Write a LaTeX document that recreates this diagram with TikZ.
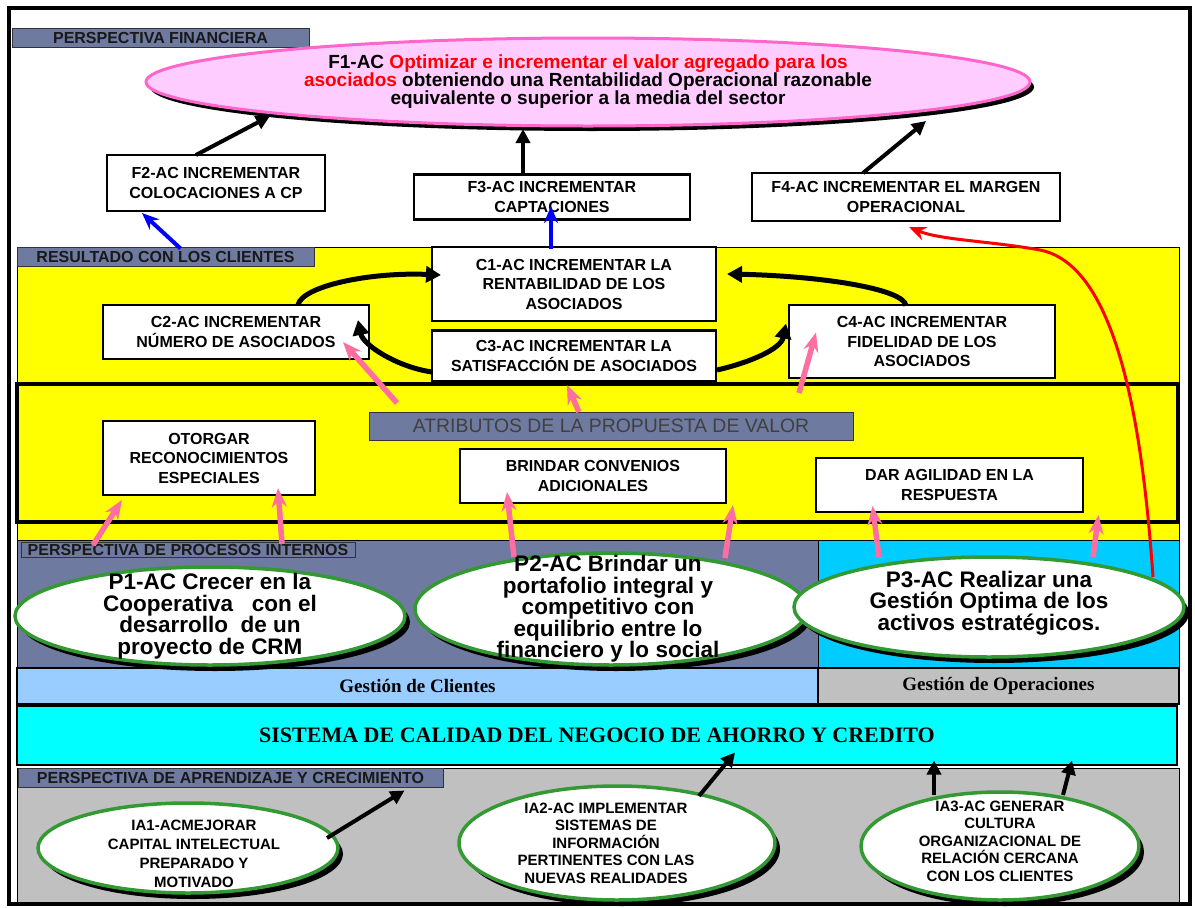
\documentclass[tikz,border=0pt]{standalone}
\usepackage{fontspec}
\setmainfont{Liberation Sans}
\newfontfamily\timesfam{Liberation Serif}
\usetikzlibrary{shapes.geometric,arrows.meta,shadows,calc}

\definecolor{slate}{RGB}{110,122,160}
\definecolor{pinkfill}{RGB}{255,204,255}
\definecolor{pinkline}{RGB}{255,102,204}
\definecolor{rosy}{RGB}{255,110,160}
\definecolor{ovalgreen}{RGB}{51,153,51}
\definecolor{procblue}{RGB}{0,204,255}
\definecolor{aqua}{RGB}{0,255,255}
\definecolor{skyblue}{RGB}{153,204,255}
\definecolor{silver}{RGB}{192,192,192}
\definecolor{sunyellow}{RGB}{255,255,0}

\newcommand\setfs[2]{\fontsize{#1}{#2}\selectfont}

\begin{document}
\begin{tikzpicture}[x=1pt,y=-1pt,
  region/.style={draw=black,line width=0.8pt},
  tag/.style={draw=black!80,line width=0.8pt,fill=slate,inner sep=0pt,
    font=\bfseries\setfs{16}{16},text=black!90},
  band/.style={draw=black,line width=1.6pt,inner sep=0pt,
    font=\timesfam\bfseries\setfs{19}{20}},
  goalbox/.style={draw=black,line width=2.2pt,fill=white,inner sep=0pt,align=center,
    font=\bfseries\setfs{16}{19.5},
    drop shadow={shadow xshift=1.3pt,shadow yshift=-1.3pt,fill=black,opacity=1}},
  oval/.style={ellipse,draw=ovalgreen,line width=3.5pt,fill=white,inner sep=0pt,
    drop shadow={shadow xshift=5pt,shadow yshift=-6pt,fill=black,opacity=1}},
  bigtext/.style={align=center,inner sep=0pt,font=\bfseries\setfs{22.5}{21.5}},
  smalltext/.style={align=center,inner sep=0pt,font=\bfseries\setfs{15}{18}},
  blackarrow/.style={draw=black,line width=4pt,-{Triangle[length=14pt,width=14pt]}},
  curvearrow/.style={draw=black,line width=5pt,-{Triangle[length=15pt,width=16pt]}},
  pinkarrow/.style={draw=rosy,line width=5.5pt,-{Stealth[length=19pt,width=15pt]}},
  bluearrow/.style={draw=blue,line width=4pt,-{Stealth[length=17pt,width=14pt]}},
  redarrow/.style={draw=red,line width=3pt,-{Stealth[length=17pt,width=14pt]}}
]
\fill[white] (0,0) rectangle (1195,908);
\useasboundingbox (0,0) rectangle (1195,908);

% ---- background bands of the four perspectives ----
\draw[region,fill=sunyellow] (17,247) rectangle (1179,540);
\draw[black,line width=4pt] (17,384) rectangle (1178,522);
\draw[region,fill=slate] (17,540) rectangle (818,667);
\draw[region,fill=procblue] (818,540) rectangle (1179,667);
\node[band,fill=skyblue,minimum width=801,minimum height=36] (gcl) at (417.5,686) {Gestión de Clientes};
\node[band,fill=silver,minimum width=361,minimum height=36] (gop) at (998.5,686) {Gestión de Operaciones};
\node[draw=black,line width=2pt,fill=aqua,minimum width=1160,minimum height=59,inner sep=0pt,
  font=\timesfam\bfseries\setfs{22}{22}] (sis) at (597,735.5) {SISTEMA DE CALIDAD DEL NEGOCIO DE AHORRO Y CREDITO};
\draw[region,fill=silver] (17,768) rectangle (1179,903);

% ---- section tags ----
\node[tag,minimum width=297,minimum height=19] (pfin) at (160.5,37.5) {PERSPECTIVA FINANCIERA};
\node[tag,minimum width=297,minimum height=19] (rescli) at (165.5,256.5) {RESULTADO CON LOS CLIENTES};
\node[tag,minimum width=334,minimum height=15] (pint) at (188,549.5) {PERSPECTIVA DE PROCESOS INTERNOS};
\node[tag,minimum width=425,minimum height=19] (papr) at (230.5,777.5) {PERSPECTIVA DE APRENDIZAJE Y CRECIMIENTO};
\node[tag,font=\setfs{19.4}{19.4},text=black!75,minimum width=484,minimum height=28] (atr) at (611,426) {ATRIBUTOS DE LA PROPUESTA DE VALOR};

% ---- financial goal ----
\node[ellipse,draw=pinkline,line width=3pt,fill=pinkfill,minimum width=884,minimum height=88,inner sep=0pt,
  drop shadow={shadow xshift=4pt,shadow yshift=-5pt,fill=black,opacity=1},
  align=center,font=\bfseries\setfs{19}{18}] (f1) at (588,82)
  {F1-AC \textcolor{red}{Optimizar e incrementar el valor agregado para los}\\
   \textcolor{red}{asociados} obteniendo una Rentabilidad Operacional razonable\\
   equivalente o superior a la media del sector};

% ---- objective boxes ----
\node[goalbox,minimum width=218,minimum height=56] (f2) at (216,183) {F2-AC INCREMENTAR\\COLOCACIONES A CP};
\node[goalbox,minimum width=276,minimum height=45] (f3) at (552,197) {F3-AC INCREMENTAR\\CAPTACIONES};
\node[goalbox,minimum width=308,minimum height=48] (f4) at (906,197) {F4-AC INCREMENTAR EL MARGEN\\OPERACIONAL};
\node[goalbox,minimum width=284,minimum height=74] (c1) at (574,284) {C1-AC INCREMENTAR LA\\RENTABILIDAD DE LOS\\ASOCIADOS};
\node[goalbox,minimum width=284,minimum height=51] (c3) at (574,356) {C3-AC INCREMENTAR LA\\SATISFACCIÓN DE ASOCIADOS};
\node[goalbox,minimum width=266,minimum height=54] (c2) at (236,332) {C2-AC INCREMENTAR\\NÚMERO DE ASOCIADOS};
\node[goalbox,minimum width=266,minimum height=73] (c4) at (922,341.5) {C4-AC INCREMENTAR\\FIDELIDAD DE LOS\\ASOCIADOS};
\node[goalbox,minimum width=212,minimum height=74] (oto) at (209,458) {OTORGAR\\RECONOCIMIENTOS\\ESPECIALES};
\node[goalbox,minimum width=266,minimum height=54] (bri) at (593,476) {BRINDAR CONVENIOS\\ADICIONALES};
\node[goalbox,minimum width=267,minimum height=54] (dar) at (949.5,485) {DAR AGILIDAD EN LA\\RESPUESTA};

% ---- process ovals ----
\node[oval,minimum width=390,minimum height=98] (p1) at (210,616) {};
\node[bigtext] (p1t) at (p1) {P1-AC Crecer en la\\Cooperativa\ \ \ con el\\desarrollo\ \ de un\\proyecto de CRM};
\node[oval,minimum width=392,minimum height=112] (p2) at (611,609) {};
\node[bigtext] (p2t) at ($(p2)+(-3,0)$) {P2-AC Brindar un\\portafolio integral y\\competitivo con\\equilibrio entre lo\\financiero y lo social};
\node[oval,minimum width=390,minimum height=100] (p3) at (989,607) {};
\node[bigtext] (p3t) at ($(p3)+(0,-4)$) {P3-AC Realizar una\\Gestión Optima de los\\activos estratégicos.};

% ---- learning ovals ----
\node[oval,minimum width=300,minimum height=90] (ia1) at (188,848) {};
\node[smalltext,font=\bfseries\setfs{15}{19}] (ia1t) at ($(ia1)+(6,6)$) {IA1-ACMEJORAR\\CAPITAL INTELECTUAL\\PREPARADO Y\\MOTIVADO};
\node[oval,minimum width=316,minimum height=114] (ia2) at (617,843) {};
\node[smalltext,font=\bfseries\setfs{15}{17.5}] (ia2t) at ($(ia2)+(-11,0)$) {IA2-AC IMPLEMENTAR\\SISTEMAS DE\\INFORMACIÓN\\PERTINENTES CON LAS\\NUEVAS REALIDADES};
\node[oval,minimum width=278,minimum height=108] (ia3) at (1000,846) {};
\node[smalltext,font=\bfseries\setfs{15}{17.5}] (ia3t) at ($(ia3)+(0,-5)$) {IA3-AC GENERAR\\CULTURA\\ORGANIZACIONAL DE\\RELACIÓN CERCANA\\CON LOS CLIENTES};

% ---- links towards the financial goal ----
\draw[blackarrow] ($(f2.center)+(-20,-28)$) -- ($(f1.center)+(-318,34)$);
\draw[blackarrow] ($(f3.center)+(-29,-22)$) -- ($(f1.center)+(-65,47)$);
\draw[blackarrow] ($(f4.center)+(-43,-24)$) -- ($(f1.center)+(338,39)$);
\draw[bluearrow] ($(rescli.center)+(15,-8)$) -- ($(f2.center)+(-74,30)$);
\draw[bluearrow] ($(c1.center)+(-23,-35)$) -- ($(f3.center)+(-1,9)$);
\draw[redarrow] ($(p3.center)+(164,-30)$)
  .. controls ($(f4.center)+(236,223)$) and ($(f4.center)+(210,68)$) .. ($(f4.center)+(134,53)$)
  .. controls ($(f4.center)+(84,44)$) and ($(f4.center)+(34,43)$) .. ($(f4.center)+(3,30)$);

% ---- client results loop ----
\draw[curvearrow] ($(c2.center)+(62,-27)$) .. controls +(4,-19) and +(-71,-3) .. ($(c1.center)+(-133,-9)$);
\draw[curvearrow] ($(c4.center)+(-16,-36)$) .. controls +(-3,-17) and +(93,2) .. ($(c1.center)+(153,-10)$);
\draw[curvearrow] ($(c3.center)+(-142,16)$) .. controls +(-35,-5) and +(5,25) .. ($(c2.center)+(122,-12)$);
\draw[curvearrow] ($(c3.center)+(143,14)$) .. controls +(35,-8) and +(-5,25) .. ($(c4.center)+(-136,-18)$);

% ---- value proposition links ----
\draw[pinkarrow] ($(atr.center)+(-214,-23)$) -- ($(c2.center)+(107,10)$);
\draw[pinkarrow] ($(atr.center)+(-32,-14)$) -- ($(c3.center)+(-7,29)$);
\draw[pinkarrow] ($(atr.center)+(188,-33)$) -- ($(c4.center)+(-106,-9)$);
\draw[pinkarrow] ($(p1.center)+(-117,-71)$) -- ($(oto.center)+(-87,42)$);
\draw[pinkarrow] ($(p1.center)+(72,-72)$) -- ($(oto.center)+(69,30)$);
\draw[pinkarrow] ($(p2.center)+(-97,-52)$) -- ($(bri.center)+(-86,16)$);
\draw[pinkarrow] ($(p2.center)+(114,-51)$) -- ($(bri.center)+(140,29)$);
\draw[pinkarrow] ($(p3.center)+(-110,-50)$) -- ($(dar.center)+(-77,21)$);
\draw[pinkarrow] ($(p3.center)+(104,-50)$) -- ($(dar.center)+(149,30)$);

% ---- learning links ----
\draw[blackarrow] ($(ia1.center)+(139,-10)$) -- ($(papr.center)+(174,13)$);
\draw[blackarrow] ($(ia2.center)+(82,-47)$) -- ($(sis.center)+(138,17)$);
\draw[blackarrow] ($(ia3.center)+(-66,-51)$) -- ($(sis.center)+(337,25)$);
\draw[blackarrow] ($(ia3.center)+(63,-51)$) -- ($(sis.center)+(475,25)$);

% ---- outer frame ----
\draw[line width=4.5pt] (9,8) rectangle (1190,904);
\end{tikzpicture}
\end{document}
